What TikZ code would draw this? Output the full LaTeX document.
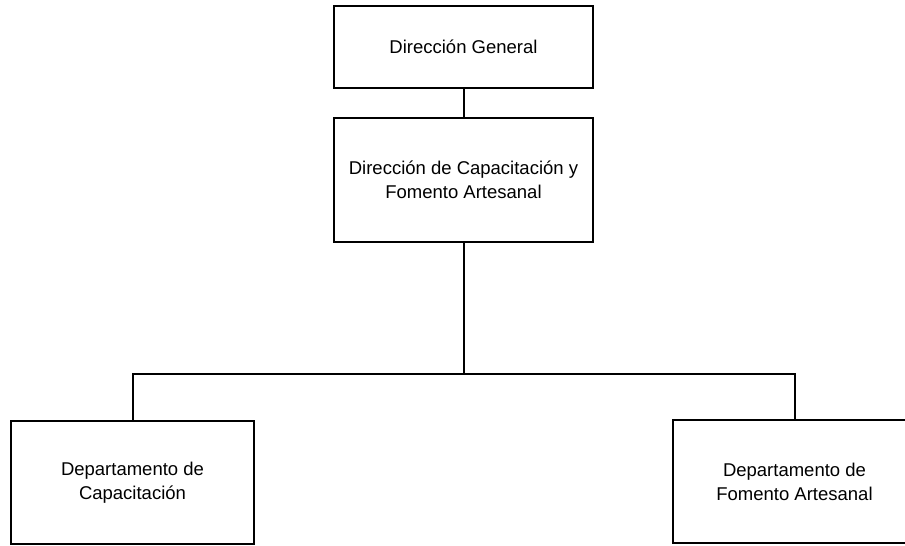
\documentclass[tikz,border=0pt]{standalone}
\usepackage{fontspec}
\setmainfont{Liberation Sans}
\usetikzlibrary{positioning}

\tikzset{
  unit/.style={
    rectangle,
    draw,
    line width=2pt,
    align=center,
    font=\fontsize{18.5}{24}\selectfont,
    minimum width=259pt},
  link/.style={line width=2pt}
}

\begin{document}
\begin{tikzpicture}[x=1pt,y=-1pt]
  \useasboundingbox (0,0) rectangle (905,546);
  \node[unit, minimum height=82pt] (dg) at (463.5,47) {Dirección General};
  \node[
  unit,
  below=28pt of dg,
  minimum height=124pt] (dca) {Dirección de Capacitación y\\Fomento Artesanal};

  \node[unit, minimum width=243pt, minimum height=123pt] (dcap) at (132.5,482.5) {Departamento de\\Capacitación};
  \node[unit, minimum width=243pt, minimum height=123pt] (dfa) at (794.5,481.5) {Departamento de\\Fomento Artesanal};

  \coordinate (bus) at (463.5,374);

  \draw[link] (dg)--(dca);
  \draw[link] (dca.south)--(bus);
  \draw[link] (dcap.north) |- (bus) -| (dfa.north);
\end{tikzpicture}
\end{document}
